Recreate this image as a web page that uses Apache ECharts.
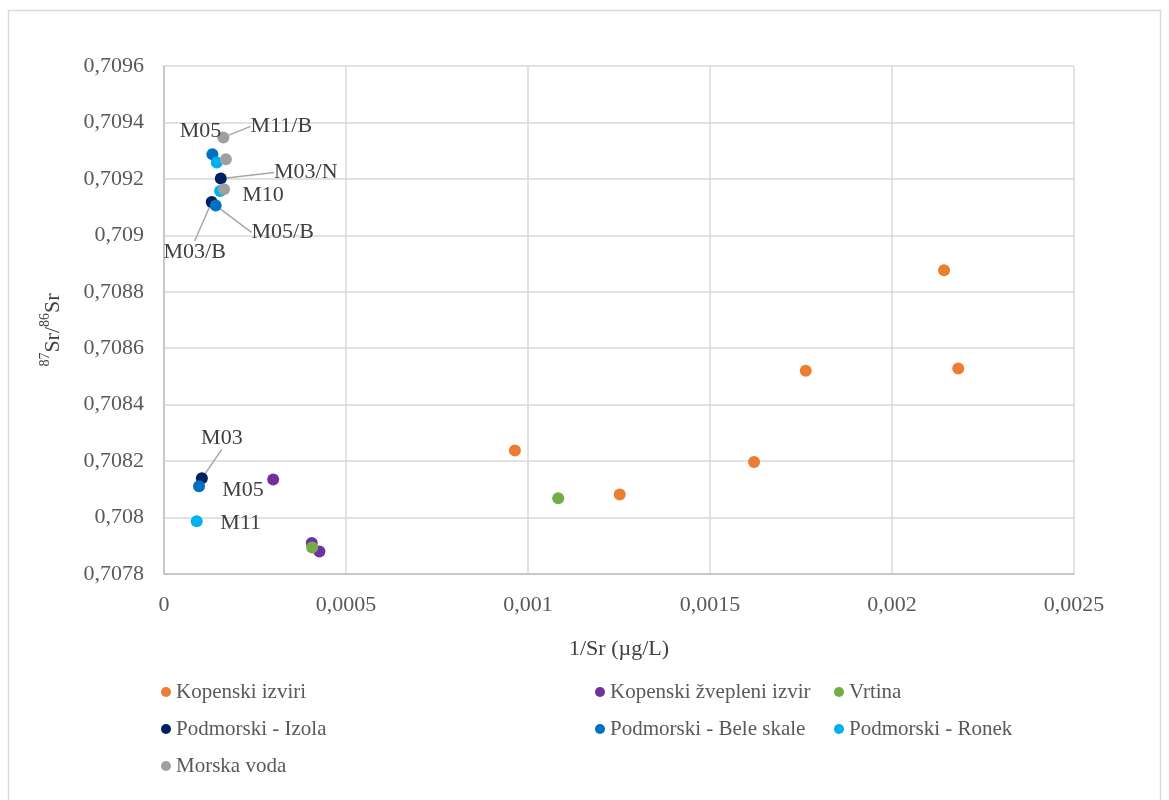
<!DOCTYPE html>
<html>
<head>
<meta charset="utf-8">
<script src="https://cdn.jsdelivr.net/npm/echarts@6/dist/echarts.min.js"></script>
<style>
html,body{margin:0;padding:0;background:#fff;}
#chart{width:1169px;height:800px;}
</style>
</head>
<body>
<div id="chart"></div>
<script>
// ---- Data ----
const seriesNames = ['Kopenski izviri','Kopenski žvepleni izvir','Vrtina','Podmorski - Izola','Podmorski - Bele skale','Podmorski - Ronek','Morska voda'];
const kopenskiIzviri = [[0.000964,0.708238],[0.001252,0.708082],[0.001621,0.708197],[0.001763,0.70852],[0.002143,0.708876],[0.002182,0.708528]];
const kopenskiZvepleni = [[0.000300,0.708135],[0.000406,0.707910],[0.000427,0.707880]];
const vrtina = [[0.000407,0.707894],[0.001083,0.708068]];
const izola = [[0.000104,0.708139],[0.000156,0.709201],[0.000131,0.709118]];
const izolaNames = ['M03','M03/N','M03/B'];
const beleSkale = [[0.0000962,0.708111],[0.000133,0.709287],[0.000142,0.709106]];
const beleSkaleNames = ['M05','M05','M05/B'];
const ronek = [[0.0000898,0.707987],[0.000145,0.709258],[0.000154,0.709157]];
const ronekNames = ['M11','',''];
const morskaVoda = [[0.000163,0.709347],[0.000170,0.709270],[0.000165,0.709163]];
const morskaVodaNames = ['M11/B','','M10'];
const xTicks = ['0','0,0005','0,001','0,0015','0,002','0,0025'];
const yTicks = ['0,7078','0,708','0,7082','0,7084','0,7086','0,7088','0,709','0,7092','0,7094','0,7096'];

// ---- Styles ----
const colors = ['#ED7D31','#7030A0','#70AD47','#002060','#0070C0','#00B0F0','#A0A0A0'];
const FONT = '"Liberation Serif", "Times New Roman", serif';
// label offsets (px from point centre), with leader-line flag
const labelOffsets = {
  '3_0':[20,-40,true], '3_1':[85,-6,true], '3_2':[-17,50,true],
  '4_0':[44,4,false], '4_1':[-12,-23,false], '4_2':[67,27,true],
  '5_0':[44,2,false],
  '6_0':[58,-11,true], '6_2':[39,6,false]
};

function mk(arr, names){
  return arr.map((v,i)=>({value:v, name: names ? names[i] : ''}));
}
const dataSets = [
  mk(kopenskiIzviri), mk(kopenskiZvepleni), mk(vrtina),
  mk(izola, izolaNames), mk(beleSkale, beleSkaleNames), mk(ronek, ronekNames), mk(morskaVoda, morskaVodaNames)
];

const series = dataSets.map((d, si) => ({
  type:'scatter',
  name: seriesNames[si],
  symbolSize: 12,
  itemStyle:{color: colors[si], opacity:1},
  data: d.map((it, di) => {
    const key = si+'_'+di;
    const o = labelOffsets[key];
    const item = {value: it.value, name: it.name};
    if (o) {
      item.label = {show:true};
      item.labelLine = {show: o[2], lineStyle:{color:'#a6a6a6', width:1.5}};
    }
    return item;
  }),
  label:{show:false, formatter:'{b}', fontFamily:FONT, fontSize:22, color:'#404040'},
  labelLine:{show:false, smooth:false, length2:0},
  labelLayout: function(p){
    const o = labelOffsets[p.seriesIndex+'_'+p.dataIndex];
    if (!o) return {};
    const cx = p.rect.x + p.rect.width/2, cy = p.rect.y + p.rect.height/2;
    return {x: cx + o[0], y: cy + o[1], align:'center', verticalAlign:'middle'};
  },
  emphasis:{disabled:true}
}));

const legendText = {fontFamily:FONT, fontSize:21, color:'#595959', lineHeight:24};
function legendCol(left, names){
  return {orient:'vertical', left:left, top:675, itemWidth:10, itemHeight:10, itemGap:13,
    icon:'circle', data:names, textStyle:legendText, selectedMode:false};
}

const chart = echarts.init(document.getElementById('chart'));
chart.setOption({
  backgroundColor:'#fff',
  animation:false,
  graphic:[{type:'rect', shape:{x:8.5,y:10.5,width:1152,height:800}, style:{fill:'none', stroke:'#d9d9d9', lineWidth:1.5}, silent:true}],
  grid:{left:164, right:95, top:66, bottom:226},
  legend:[
    legendCol(156, [seriesNames[0], seriesNames[3], seriesNames[6]]),
    legendCol(590, [seriesNames[1], seriesNames[4]]),
    legendCol(829, [seriesNames[2], seriesNames[5]])
  ],
  xAxis:{
    type:'value', min:0, max:0.0025, interval:0.0005,
    name:'1/Sr (µg/L)', nameLocation:'middle', nameGap:64,
    nameTextStyle:{fontFamily:FONT, fontSize:22, color:'#404040'},
    axisLine:{show:true, lineStyle:{color:'#bfbfbf', width:1.5}},
    axisTick:{show:false},
    axisLabel:{fontFamily:FONT, fontSize:22, color:'#595959', margin:20,
      formatter:(v)=>xTicks[Math.round(v/0.0005)]},
    splitLine:{show:true, lineStyle:{color:'#d9d9d9', width:1.5}}
  },
  yAxis:{
    type:'value', min:0.7078, max:0.7096, interval:0.0002,
    name:'{sup|87}{n|Sr/}{sup|86}{n|Sr}', nameLocation:'middle', nameGap:100,
    nameTextStyle:{fontFamily:FONT, color:'#404040', padding:[0,20,0,0],
      rich:{
        n:{fontFamily:FONT, fontSize:22, color:'#404040', lineHeight:26, verticalAlign:'bottom'},
        sup:{fontFamily:FONT, fontSize:14, color:'#404040', lineHeight:26, verticalAlign:'top'}
      }},
    axisLine:{show:true, lineStyle:{color:'#bfbfbf', width:1.5}},
    axisTick:{show:false},
    axisLabel:{fontFamily:FONT, fontSize:22, color:'#595959', margin:20,
      formatter:(v)=>yTicks[Math.round((v-0.7078)/0.0002)]},
    splitLine:{show:true, lineStyle:{color:'#d9d9d9', width:1.5}}
  },
  series: series
});
</script>
</body>
</html>
